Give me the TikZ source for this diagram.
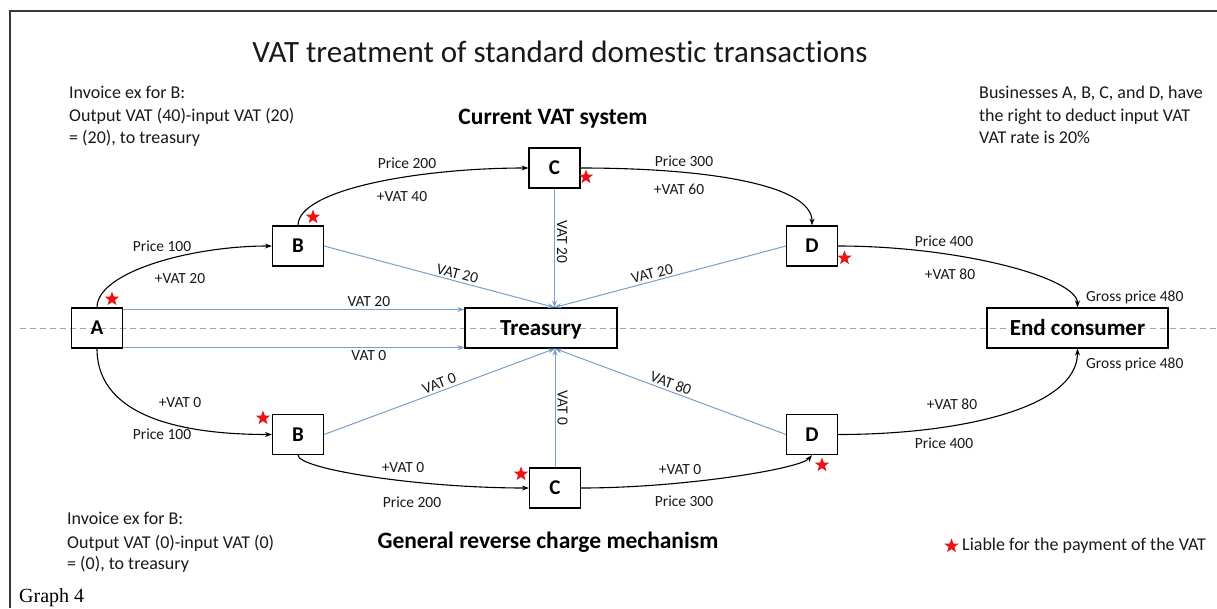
\documentclass[tikz,border=0pt]{standalone}
\usepackage{fontspec}
\setmainfont{Carlito}[Ligatures={NoCommon}]
\newfontfamily\graphfont{Liberation Serif}
\usetikzlibrary{arrows.meta,shapes.geometric,calc}
\definecolor{vatblue}{RGB}{120,160,202}
\definecolor{dashgray}{RGB}{165,165,165}
\definecolor{framegray}{RGB}{55,55,55}
\definecolor{starred}{RGB}{235,20,20}
\definecolor{txtgray}{RGB}{25,25,25}
\begin{document}
\begin{tikzpicture}[x=1pt,y=-1pt,
  biz/.style={draw, line width=1.2pt, minimum width=51pt, minimum height=40pt, inner sep=0pt, text height=13.5pt, text depth=0pt, font=\fontsize{21}{25}\selectfont\bfseries},
  bigbox/.style={draw, line width=1.2pt, minimum height=40pt, inner sep=0pt, text height=14.8pt, text depth=0pt, font=\fontsize{23}{27}\selectfont\bfseries},
  lbl/.style={font=\fontsize{15.5}{18}\selectfont, inner sep=0pt, text=txtgray},
  vlbl/.style={font=\fontsize{15.5}{18}\selectfont, inner sep=2pt, text=txtgray},
  body/.style={font=\fontsize{18}{22}\selectfont, inner sep=0pt, anchor=base west, text=txtgray},
  head/.style={font=\fontsize{23.5}{28}\selectfont\bfseries, inner sep=0pt, anchor=base},
  vatline/.style={vatblue, line width=1pt, -{Stealth[length=7pt,width=5pt]}},
  flow/.style={black, line width=1.1pt, -{Stealth[length=7pt,width=5pt]}},
  liable/.style={star, star points=5, star point ratio=2.4, fill=starred, minimum size=15pt, inner sep=0pt}]
\useasboundingbox (0,0) rectangle (1217,608);
\fill[white] (0,0) rectangle (1217,608);
% frame
\draw[framegray, line width=1.5pt] (10,608) -- (10,11) -- (1217,11);
% dashed axis
\draw[dashgray, line width=0.9pt, dash pattern=on 6pt off 4pt] (20,328) -- (1217,328);

% title and texts
\node[font=\fontsize{31}{36}\selectfont, anchor=base, inner sep=0pt, text=txtgray] (title) at (560,62) {VAT treatment of standard domestic transactions};
\node[body] (inv1) at (69,98) {Invoice ex for B:};
\node[body] (inv2) at (69,121) {Output VAT (40)-input VAT (20)};
\node[body] (inv3) at (69,143) {= (20), to treasury};
\node[body] (bus1) at (979,98) {Businesses A, B, C, and D, have};
\node[body] (bus2) at (979,121) {the right to deduct input VAT};
\node[body] (bus3) at (979,143) {VAT rate is 20\%};
\node[head] (cur) at (553,124) {Current VAT system};
\node[body] (rinv1) at (67,524) {Invoice ex for B:};
\node[body] (rinv2) at (67,548) {Output VAT (0)-input VAT (0)};
\node[body] (rinv3) at (67,569) {= (0), to treasury};
\node[head] (gen) at (548,548) {General reverse charge mechanism};
\node[liable] (legstar) at (951.5,546) {};
\node[body] (legtxt) at (962,550) {Liable for the payment of the VAT};
\node[font=\graphfont\fontsize{20}{24}\selectfont, anchor=base west, inner sep=0pt] (graph) at (19,602) {Graph 4};

% boxes
\node[biz] (A) at (97,328) {A};
\node[biz] (B1) at (298,246) {B};
\node[biz] (C1) at (554.5,168) {C};
\node[biz] (D1) at (812,246) {D};
\node[biz] (B2) at (298,434.5) {B};
\node[biz] (C2) at (555,488) {C};
\node[biz] (D2) at (812,434.5) {D};
\node[bigbox, minimum width=152pt] (T) at (541,328) {Treasury};
\node[bigbox, minimum width=181pt] (E) at (1077.5,328) {End consumer};

\coordinate (Ttop) at (C1.south |- T.north);
\coordinate (Tbot) at (C2.north |- T.south);

% VAT payments to treasury
\draw[vatline] ($(A.north east)+(0,2)$) -- node[vlbl, pos=0.72, above] (v1) {VAT 20} ($(T.north west)+(0,2)$);
\draw[vatline] ($(A.south east)+(0,-1)$) -- node[vlbl, pos=0.72, below] (v2) {VAT 0} ($(T.south west)+(0,-1)$);
\draw[vatline] (B1.east) -- node[vlbl, pos=0.57, sloped, above] (v3) {VAT 20} (Ttop);
\draw[vatline] (C1.south) -- node[vlbl, pos=0.45, anchor=south, rotate=-90] (v4) {VAT 20} (Ttop);
\draw[vatline] (D1.west) -- node[vlbl, pos=0.57, sloped, above] (v5) {VAT 20} (Ttop);
\draw[vatline] (B2.east) -- node[vlbl, pos=0.51, sloped, above] (v6) {VAT 0} (Tbot);
\draw[vatline] (C2.north) -- node[vlbl, pos=0.5, anchor=south, rotate=-90] (v7) {VAT 0} (Tbot);
\draw[vatline] (D2.west) -- node[vlbl, pos=0.51, sloped, above] (v8) {VAT 80} (Tbot);

% current system flows
\draw[flow] (A.north) .. controls +(0,-35) and +(-82,0) .. (B1.west);
\draw[flow] (B1.north) .. controls +(0,-36) and +(-109,0) .. (C1.west);
\draw[flow] (C1.east) .. controls +(130,0) and +(0,-40) .. (D1.north);
\draw[flow] (D1.east) .. controls +(120,0) and +(0,-30) .. (E.north);
% reverse charge flows
\draw[flow] (A.south) .. controls +(0,72) and +(-80,0) .. (B2.west);
\draw[flow] (B2.south) .. controls +(0,14) and +(-110,0) .. (C2.west);
\draw[flow] (C2.east) .. controls +(100,0) and +(-12,14) .. (D2.south);
\draw[flow] (D2.east) .. controls +(120,0) and +(0,60) .. (E.south);

% flow labels (top)
\node[lbl] (p1) at (162,246) {Price 100};
\node[lbl] (q1) at (180,279) {+VAT 20};
\node[lbl] (p2) at (407,163) {Price 200};
\node[lbl] (q2) at (402,197) {+VAT 40};
\node[lbl] (p3) at (684,161) {Price 300};
\node[lbl] (q3) at (679,189) {+VAT 60};
\node[lbl] (p4) at (944,241) {Price 400};
\node[lbl] (q4) at (950,274) {+VAT 80};
\node[lbl, anchor=west] (g1) at (1086,297) {Gross price 480};
% flow labels (bottom)
\node[lbl] (q5) at (180,403) {+VAT 0};
\node[lbl] (p5) at (162,434) {Price 100};
\node[lbl] (q6) at (403,468) {+VAT 0};
\node[lbl] (p6) at (412,502) {Price 200};
\node[lbl] (q7) at (680,470) {+VAT 0};
\node[lbl] (p7) at (684,501) {Price 300};
\node[lbl] (q8) at (952,404) {+VAT 80};
\node[lbl] (p8) at (944,443) {Price 400};
\node[lbl, anchor=west] (g2) at (1086,364) {Gross price 480};

% liability stars
\node[liable] (s1) at (112,299) {};
\node[liable] (s2) at (313,217) {};
\node[liable] (s3) at (586,177) {};
\node[liable] (s4) at (844.5,258) {};
\node[liable] (s5) at (263,418) {};
\node[liable] (s6) at (521,474) {};
\node[liable] (s7) at (822,465) {};
\end{tikzpicture}
\end{document}
